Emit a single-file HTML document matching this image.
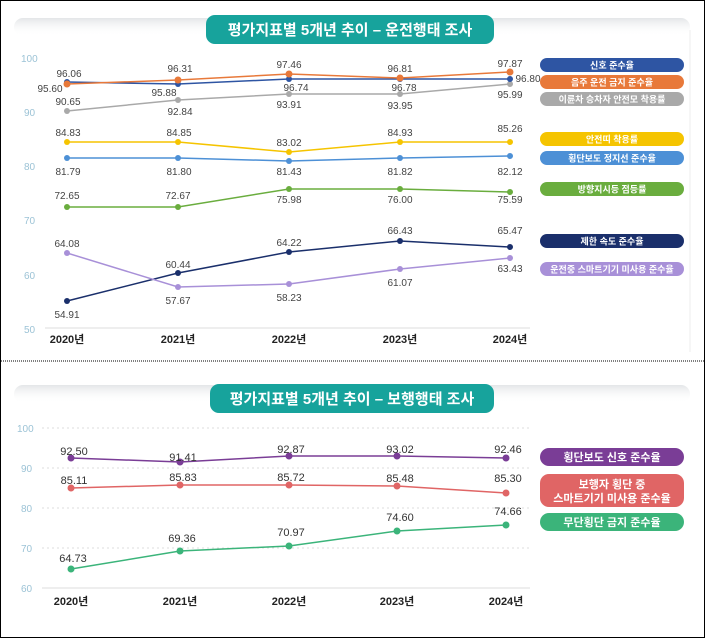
<!DOCTYPE html>
<html><head><meta charset="utf-8"><style>
body{margin:0;background:#fff}
svg{display:block}
text{font-family:"Liberation Sans","Noto Sans CJK KR",sans-serif}
</style></head><body>
<svg width="705" height="638" viewBox="0 0 705 638" xmlns="http://www.w3.org/2000/svg">
<rect x="0.5" y="0.5" width="704" height="637" fill="#fff" stroke="#000"/>
<line x1="1" y1="361" x2="704" y2="361" stroke="#000" stroke-dasharray="1,1"/>
<defs><linearGradient id="g" x1="0" y1="0" x2="0" y2="1"><stop offset="0" stop-color="#e4e6e8"/><stop offset="1" stop-color="#fff" stop-opacity="0"/></linearGradient></defs>
<rect x="14" y="18" width="676" height="18" rx="9" fill="url(#g)"/>
<line x1="690" y1="30" x2="690" y2="352" stroke="#eee"/>
<rect x="206" y="15" width="288" height="29" rx="9" fill="#17a39c"/>
<text x="350" y="35" font-size="15" font-weight="bold" fill="#fff" text-anchor="middle">평가지표별 5개년 추이 – 운전행태 조사</text>
<g font-size="10" fill="#9cc3d6">
<text x="21" y="62">100</text><text x="24" y="116">90</text><text x="24" y="170">80</text><text x="24" y="224">70</text><text x="24" y="279">60</text><text x="24" y="333">50</text>
</g>
<line x1="45" y1="328" x2="530" y2="328" stroke="#ddd"/>
<g font-size="11" font-weight="bold" fill="#222" text-anchor="middle">
<text x="67" y="343">2020년</text><text x="178" y="343">2021년</text><text x="289" y="343">2022년</text><text x="400" y="343">2023년</text><text x="510" y="343">2024년</text>
</g>
<g fill="none" stroke-width="1.5">
<polyline stroke="#a9a9a9" points="67,111 178,100 289,94 400,94 510,84"/>
<polyline stroke="#2e55a3" points="67,82 178,84 289,79 400,79 510,79"/>
<polyline stroke="#e8793a" points="67,84 178,80 289,74 400,78 510,72"/>
<polyline stroke="#f5c400" points="67,142 178,142 289,152 400,142 510,142"/>
<polyline stroke="#4d90d6" points="67,158 178,158 289,161 400,158 510,156"/>
<polyline stroke="#6aad3e" points="67,207 178,207 289,189 400,189 510,192"/>
<polyline stroke="#1a2f6b" points="67,301 178,273 289,252 400,241 510,247"/>
<polyline stroke="#a890d8" points="67,253 178,287 289,284 400,269 510,258"/>
</g>
<g stroke="none">
<g fill="#a9a9a9"><circle cx="67" cy="111" r="3"/><circle cx="178" cy="100" r="3"/><circle cx="289" cy="94" r="3"/><circle cx="400" cy="94" r="3"/><circle cx="510" cy="84" r="3"/></g>
<g fill="#2e55a3"><circle cx="67" cy="82" r="3"/><circle cx="178" cy="84" r="3"/><circle cx="289" cy="79" r="3"/><circle cx="400" cy="79" r="3"/><circle cx="510" cy="79" r="3"/></g>
<g fill="#e8793a"><circle cx="67" cy="84" r="3.5"/><circle cx="178" cy="80" r="3.5"/><circle cx="289" cy="74" r="3.5"/><circle cx="400" cy="78" r="3.5"/><circle cx="510" cy="72" r="3.5"/></g>
<g fill="#f5c400"><circle cx="67" cy="142" r="3"/><circle cx="178" cy="142" r="3"/><circle cx="289" cy="152" r="3"/><circle cx="400" cy="142" r="3"/><circle cx="510" cy="142" r="3"/></g>
<g fill="#4d90d6"><circle cx="67" cy="158" r="3"/><circle cx="178" cy="158" r="3"/><circle cx="289" cy="161" r="3"/><circle cx="400" cy="158" r="3"/><circle cx="510" cy="156" r="3"/></g>
<g fill="#6aad3e"><circle cx="67" cy="207" r="3"/><circle cx="178" cy="207" r="3"/><circle cx="289" cy="189" r="3"/><circle cx="400" cy="189" r="3"/><circle cx="510" cy="192" r="3"/></g>
<g fill="#1a2f6b"><circle cx="67" cy="301" r="3"/><circle cx="178" cy="273" r="3"/><circle cx="289" cy="252" r="3"/><circle cx="400" cy="241" r="3"/><circle cx="510" cy="247" r="3"/></g>
<g fill="#a890d8"><circle cx="67" cy="253" r="3"/><circle cx="178" cy="287" r="3"/><circle cx="289" cy="284" r="3"/><circle cx="400" cy="269" r="3"/><circle cx="510" cy="258" r="3"/></g>
</g>
<g font-size="10" fill="#444" text-anchor="middle">
<text x="69" y="77">96.06</text><text x="180" y="72">96.31</text><text x="289" y="68">97.46</text><text x="400" y="72">96.81</text><text x="510" y="67">97.87</text>
<text x="50" y="92">95.60</text><text x="164" y="96">95.88</text><text x="296" y="91">96.74</text><text x="404" y="91">96.78</text><text x="528" y="82">96.80</text>
<text x="68" y="105">90.65</text><text x="180" y="115">92.84</text><text x="289" y="108">93.91</text><text x="400" y="109">93.95</text><text x="510" y="98">95.99</text>
<text x="68" y="136">84.83</text><text x="179" y="136">84.85</text><text x="289" y="146">83.02</text><text x="400" y="136">84.93</text><text x="510" y="132">85.26</text>
<text x="68" y="175">81.79</text><text x="179" y="175">81.80</text><text x="289" y="175">81.43</text><text x="400" y="175">81.82</text><text x="510" y="175">82.12</text>
<text x="67" y="199">72.65</text><text x="178" y="199">72.67</text><text x="289" y="203">75.98</text><text x="400" y="203">76.00</text><text x="510" y="203">75.59</text>
<text x="67" y="247">64.08</text><text x="178" y="268">60.44</text><text x="289" y="246">64.22</text><text x="400" y="234">66.43</text><text x="510" y="234">65.47</text>
<text x="67" y="318">54.91</text><text x="178" y="304">57.67</text><text x="289" y="301">58.23</text><text x="400" y="286">61.07</text><text x="510" y="272">63.43</text>
</g>
<g font-size="9" fill="#fff" text-anchor="middle" font-weight="bold">
<rect x="540" y="58" width="144" height="14" rx="7" fill="#2e55a3"/><text x="612" y="68.5">신호 준수율</text>
<rect x="540" y="75" width="144" height="14" rx="7" fill="#e8793a"/><text x="612" y="85.5">음주 운전 금지 준수율</text>
<rect x="540" y="92" width="144" height="14" rx="7" fill="#a9a9a9"/><text x="612" y="102.5">이륜차 승차자 안전모 착용률</text>
<rect x="540" y="132" width="144" height="14" rx="7" fill="#f5c400"/><text x="612" y="142.5">안전띠 착용률</text>
<rect x="540" y="151" width="144" height="14" rx="7" fill="#4d90d6"/><text x="612" y="161.5">횡단보도 정지선 준수율</text>
<rect x="540" y="182" width="144" height="14" rx="7" fill="#6aad3e"/><text x="612" y="192.5">방향지시등 점등률</text>
<rect x="540" y="234" width="144" height="14" rx="7" fill="#1a2f6b"/><text x="612" y="244.5">제한 속도 준수율</text>
<rect x="540" y="262" width="144" height="14" rx="7" fill="#a890d8"/><text x="612" y="272.5">운전중 스마트기기 미사용 준수율</text>
</g>
<rect x="14" y="385" width="676" height="18" rx="9" fill="url(#g)"/>
<rect x="210" y="384" width="284" height="29" rx="9" fill="#17a39c"/>
<text x="352" y="404" font-size="15" font-weight="bold" fill="#fff" text-anchor="middle">평가지표별 5개년 추이 – 보행행태 조사</text>
<g font-size="10" fill="#9cc3d6">
<text x="17" y="432">100</text><text x="21" y="472">90</text><text x="21" y="512">80</text><text x="21" y="552">70</text><text x="21" y="592">60</text>
</g>
<g stroke="#ddd" stroke-dasharray="2,3"><line x1="42" y1="428" x2="530" y2="428"/><line x1="42" y1="468" x2="530" y2="468"/><line x1="42" y1="508" x2="530" y2="508"/><line x1="42" y1="548" x2="530" y2="548"/></g>
<line x1="42" y1="588" x2="530" y2="588" stroke="#ddd"/>
<g font-size="11" font-weight="bold" fill="#222" text-anchor="middle">
<text x="71" y="605">2020년</text><text x="180" y="605">2021년</text><text x="289" y="605">2022년</text><text x="397" y="605">2023년</text><text x="506" y="605">2024년</text>
</g>
<g fill="none" stroke-width="1.5">
<polyline stroke="#7a3d96" points="71,458 180,462 289,456 397,456 506,458"/>
<polyline stroke="#e06565" points="71,488 180,485 289,485 397,486 506,493"/>
<polyline stroke="#3bb47a" points="71,569 180,551 289,546 397,531 506,525"/>
</g>
<g fill="#7a3d96"><circle cx="71" cy="458" r="3.5"/><circle cx="180" cy="462" r="3.5"/><circle cx="289" cy="456" r="3.5"/><circle cx="397" cy="456" r="3.5"/><circle cx="506" cy="458" r="3.5"/></g>
<g fill="#e06565"><circle cx="71" cy="488" r="3.5"/><circle cx="180" cy="485" r="3.5"/><circle cx="289" cy="485" r="3.5"/><circle cx="397" cy="486" r="3.5"/><circle cx="506" cy="493" r="3.5"/></g>
<g fill="#3bb47a"><circle cx="71" cy="569" r="3.5"/><circle cx="180" cy="551" r="3.5"/><circle cx="289" cy="546" r="3.5"/><circle cx="397" cy="531" r="3.5"/><circle cx="506" cy="525" r="3.5"/></g>
<g font-size="11" fill="#333" text-anchor="middle">
<text x="74" y="455">92.50</text><text x="183" y="461">91.41</text><text x="291" y="453">92.87</text><text x="400" y="453">93.02</text><text x="508" y="453">92.46</text>
<text x="74" y="484">85.11</text><text x="183" y="481">85.83</text><text x="291" y="481">85.72</text><text x="400" y="482">85.48</text><text x="508" y="482">85.30</text>
<text x="73" y="562">64.73</text><text x="182" y="542">69.36</text><text x="291" y="536">70.97</text><text x="400" y="521">74.60</text><text x="508" y="515">74.66</text>
</g>
<g font-size="11" fill="#fff" text-anchor="middle" font-weight="bold">
<rect x="540" y="448" width="144" height="18" rx="9" fill="#7a3d96"/><text x="612" y="461">횡단보도 신호 준수율</text>
<rect x="540" y="474" width="144" height="33" rx="9" fill="#e06565"/><text x="612" y="488">보행자 횡단 중</text><text x="612" y="502">스마트기기 미사용 준수율</text>
<rect x="540" y="513" width="144" height="18" rx="9" fill="#3bb47a"/><text x="612" y="526">무단횡단 금지 준수율</text>
</g>
</svg>
</body></html>
